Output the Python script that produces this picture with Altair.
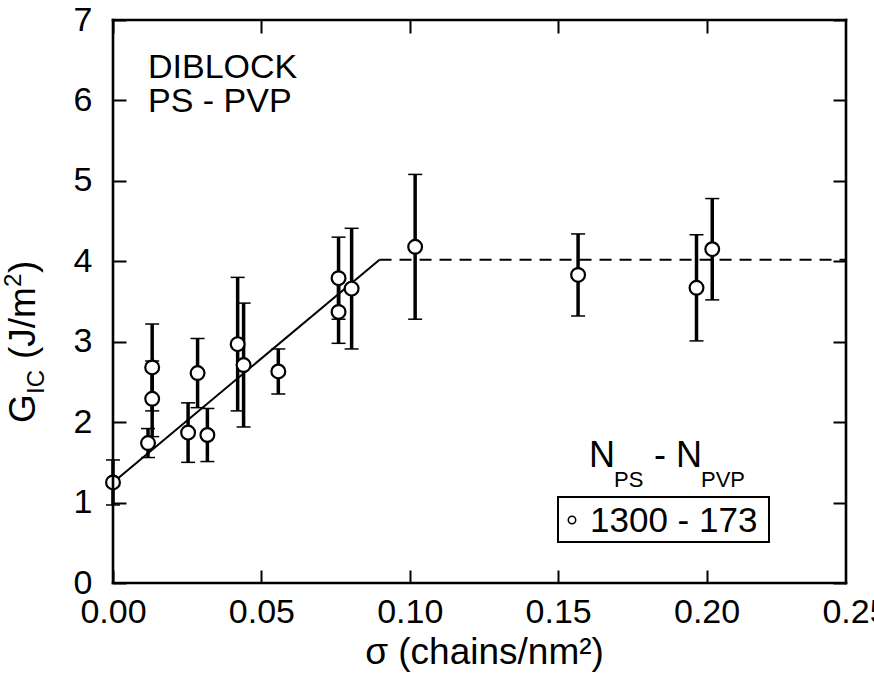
import altair as alt
import pandas as pd

# Grafting density sigma (chains/nm^2), fracture toughness G_IC (J/m^2) and its error
sigma = [0.0000, 0.0118, 0.0132, 0.0132, 0.0253, 0.0285, 0.0318, 0.0420, 0.0440,
         0.0557, 0.0760, 0.0760, 0.0804, 0.1018, 0.1567, 0.1966, 0.2019]
gic = [1.25, 1.74, 2.29, 2.68, 1.87, 2.61, 1.84, 2.97, 2.71,
       2.63, 3.79, 3.37, 3.66, 4.18, 3.83, 3.67, 4.15]
gic_err = [0.28, 0.18, 0.47, 0.54, 0.37, 0.43, 0.33, 0.83, 0.77,
           0.28, 0.51, 0.39, 0.75, 0.90, 0.51, 0.66, 0.63]

# Linear rise up to saturation, then a plateau
rise_x = [0.0, 0.0898]
rise_y = [1.25, 4.02]
plateau_x = [0.0898, 0.247]
plateau_y = [4.02, 4.02]

x_ticks = [0.0, 0.05, 0.10, 0.15, 0.20, 0.25]
y_ticks = [0, 1, 2, 3, 4, 5, 6, 7]

W, H = 733, 563
FONT = "Liberation Sans"
FS = 34
TFS = 37
TICK = 13

df = pd.DataFrame({"sigma": sigma, "gic": gic, "err": gic_err})
df["lo"] = df["gic"] - df["err"]
df["hi"] = df["gic"] + df["err"]

xs = alt.Scale(domain=[0, 0.25], range=[0, 742], nice=False, zero=False)
ys = alt.Scale(domain=[0, 7], nice=False, zero=False)

hide_last = {"condition": {"test": "datum.value > 0.248", "value": 0}, "value": 1}

x_bottom = alt.Axis(orient="bottom", values=x_ticks, format=".2f", offset=-TICK,
                    tickSize=TICK, tickWidth=2, tickColor="black", tickOpacity=hide_last,
                    domain=False, grid=False, labelPadding=12, labelFontSize=FS,
                    labelFont=FONT, labelColor="black", labelFlush=False,
                    title="σ (chains/nm²)", titleFont=FONT, titleFontSize=TFS,
                    titleFontWeight="normal", titleColor="black", titlePadding=5)
y_left = alt.Axis(orient="left", values=y_ticks, offset=-TICK, tickSize=TICK,
                  tickWidth=2, tickColor="black", domain=False, grid=False,
                  labelPadding=21, labelFontSize=FS, labelFont=FONT,
                  labelColor="black", labelFlush=False, title=None)
x_top = alt.Axis(orient="top", values=x_ticks, offset=-TICK, tickSize=TICK,
                 tickWidth=2, tickColor="black", tickOpacity=hide_last,
                 domain=False, grid=False, labels=False, title=None)
y_right = alt.Axis(orient="right", values=y_ticks, offset=-TICK, tickSize=TICK,
                   tickWidth=2, tickColor="black", domain=False, grid=False,
                   labels=False, title=None)

base = alt.Chart(df)

bars = base.mark_rule(color="black", strokeWidth=3.5).encode(
    x=alt.X("sigma:Q", scale=xs, axis=None),
    y=alt.Y("lo:Q", scale=ys, axis=None),
    y2="hi:Q",
)
cap_hi = base.mark_tick(orient="horizontal", color="black", size=14, thickness=1.5,
                        opacity=1).encode(
    x=alt.X("sigma:Q", scale=xs, axis=None),
    y=alt.Y("hi:Q", scale=ys, axis=None),
)
cap_lo = base.mark_tick(orient="horizontal", color="black", size=14, thickness=1.5,
                        opacity=1).encode(
    x=alt.X("sigma:Q", scale=xs, axis=None),
    y=alt.Y("lo:Q", scale=ys, axis=None),
)

rise = alt.Chart(pd.DataFrame({"x": rise_x, "y": rise_y})).mark_line(
    color="black", strokeWidth=2).encode(
    x=alt.X("x:Q", scale=xs, axis=x_top),
    y=alt.Y("y:Q", scale=ys, axis=y_right),
)
plateau = alt.Chart(pd.DataFrame({"x": plateau_x, "y": plateau_y})).mark_line(
    color="black", strokeWidth=2, strokeDash=[12, 8]).encode(
    x=alt.X("x:Q", scale=xs, axis=None),
    y=alt.Y("y:Q", scale=ys, axis=None),
)

points = base.mark_point(shape="circle", filled=True, fill="white", stroke="black",
                         strokeWidth=2.2, size=190, opacity=1).encode(
    x=alt.X("sigma:Q", scale=xs, axis=x_bottom),
    y=alt.Y("gic:Q", scale=ys, axis=y_left),
)


def label(txt, x, y, size=FS, angle=0, align="left"):
    return alt.Chart(pd.DataFrame({"t": [txt]})).mark_text(
        font=FONT, fontSize=size, color="black", align=align, baseline="alphabetic",
        angle=angle).encode(text="t:N", x=alt.value(x), y=alt.value(y))


# Plot frame, drawn as four solid edges
frame = [
    alt.Chart(pd.DataFrame({"t": [""]})).mark_rule(
        color="black", strokeWidth=2.6, opacity=1, strokeCap="square").encode(
        x=alt.value(x0), x2=alt.value(x1), y=alt.value(y0), y2=alt.value(y1))
    for (x0, x1, y0, y1) in [(0, 0, 0, H), (W, W, 0, H), (0, W, 0, 0), (0, W, H, H)]
]

# Sample annotation
notes = [label("DIBLOCK", 35, 58), label("PS - PVP", 35, 92)]

# Legend: header with subscripts and a boxed entry
legend_box = alt.Chart(pd.DataFrame({"t": [""]})).mark_rect(
    fill="white", stroke="black", strokeWidth=2, opacity=1).encode(
    x=alt.value(445), x2=alt.value(656), y=alt.value(477), y2=alt.value(522))
legend_dot = alt.Chart(pd.DataFrame({"t": [""]})).mark_point(
    shape="circle", filled=True, fill="white", stroke="black", strokeWidth=1.5,
    size=55, opacity=1).encode(x=alt.value(459), y=alt.value(500))
legend = [
    legend_box, legend_dot,
    label("1300 - 173", 477, 512, size=35),
    label("N", 476, 447, size=36), label("PS", 501, 467, size=22),
    label("-", 541, 447, size=36),
    label("N", 563, 447, size=36), label("PVP", 588, 467, size=22),
]

# Rotated y-axis title: G_IC (J/m^2)
yt_x, yt_y = -78, 403
ytitle = [
    label("G", yt_x, yt_y, size=TFS, angle=270),
    label("IC", yt_x + 9, yt_y - 29, size=24, angle=270),
    label("(J/m", yt_x, yt_y - 64, size=TFS, angle=270),
    label("2", yt_x - 14, yt_y - 136, size=24, angle=270),
    label(")", yt_x, yt_y - 150, size=TFS, angle=270),
]

chart = alt.layer(
    bars, cap_hi, cap_lo, rise, plateau, points, *frame, *notes, *legend, *ytitle
).resolve_axis(x="independent", y="independent").properties(
    width=W, height=H,
    padding={"left": 113, "top": 20, "right": 28, "bottom": 99},
    autosize=alt.AutoSizeParams(type="none"),
).configure(font=FONT).configure_view(stroke=None)

chart.save("out.html", embed_options={"renderer": "svg", "actions": False})
